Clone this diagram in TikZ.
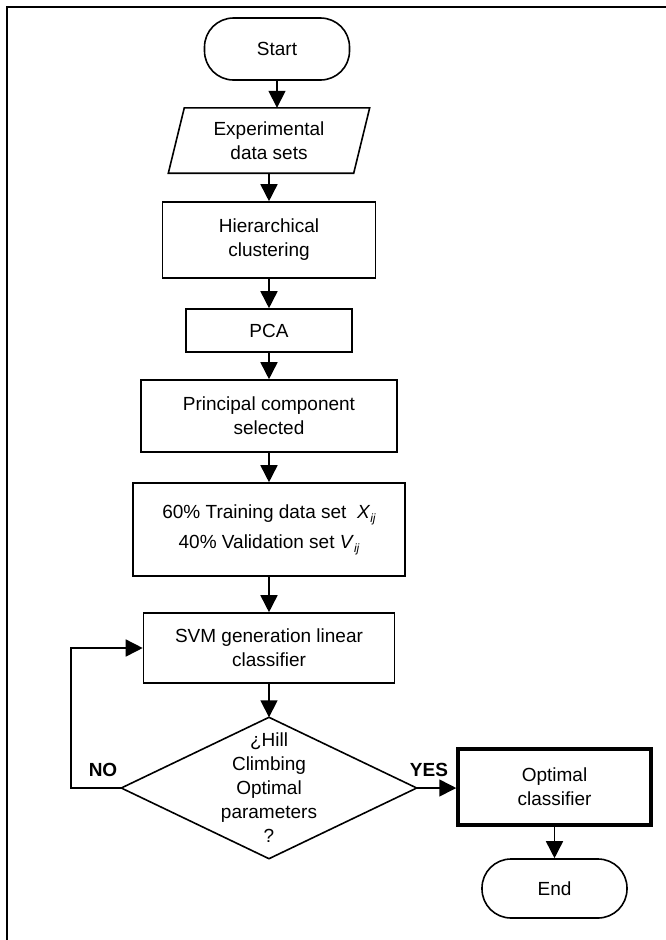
\documentclass[tikz,border=0pt]{standalone}
\usepackage{fontspec}
\setmainfont{Liberation Sans}
\usetikzlibrary{arrows.meta,calc}
\newcommand\ijsub{\raisebox{-4pt}{\fontsize{12}{12}\selectfont\itshape ij}}
\begin{document}
\begin{tikzpicture}[x=1pt,y=-1pt,
 every node/.style={font=\fontsize{19}{24}\selectfont, align=center, inner sep=0pt},
 box/.style={draw, line width=1.6pt},
 term/.style={draw, line width=1.6pt, rounded corners=29pt},
 arr/.style={line width=1.6pt, -{Triangle[length=17pt,width=17pt]}},
 line/.style={line width=1.6pt},
 lbl/.style={font=\fontsize{19}{24}\selectfont\bfseries}]
\useasboundingbox (0,0) rectangle (666,940);
\draw[line width=2.5pt] (7,940) -- (7,7) -- (666,7);

\node[term, minimum width=145pt, minimum height=62pt] (start) at (277,49) {Start};
\node[minimum width=201pt, minimum height=65pt] (data) at (269,140.5) {Experimental\\data sets};
\draw[line] ([xshift=16pt]data.north west) -- (data.north east) -- ([xshift=-16pt]data.south east) -- (data.south west) -- cycle;
\node[box, minimum width=213pt, minimum height=76pt] (hier) at (269,240) {Hierarchical\\clustering};
\node[box, minimum width=166pt, minimum height=43pt] (pca) at (269,330.5) {PCA};
\node[box, minimum width=256pt, minimum height=72pt] (pcs) at (269,416) {Principal component\\selected};
\node[box, minimum width=272pt, minimum height=93pt, font=\fontsize{19}{30}\selectfont] (split) at (269,529.5) {60\% Training data set \ \textit{X}\ijsub\\40\% Validation set \textit{V}\ijsub};
\node[box, minimum width=251pt, minimum height=70pt] (svm) at (269,648) {SVM generation linear\\classifier};
\node[minimum width=295pt, minimum height=141pt] (dec) at (269,788) {¿Hill\\Climbing\\Optimal\\parameters\\?};
\draw[line] (dec.north) -- (dec.east) -- (dec.south) -- (dec.west) -- cycle;
\node[draw, line width=3.5pt, minimum width=193pt, minimum height=76pt] (opt) at (554.5,787) {Optimal\\classifier};
\node[term, minimum width=145pt, minimum height=59pt] (end) at (554.5,888.5) {End};
\coordinate (loop) at (71,648);
\node[lbl] (no) at (103,770) {NO};
\node[lbl] (yes) at (429,770) {YES};

\draw[arr] (start.south) -- (start.south |- data.north);
\draw[arr] (data.south) -- (hier.north);
\draw[arr] (hier.south) -- (pca.north);
\draw[arr] (pca.south) -- (pcs.north);
\draw[arr] (pcs.south) -- (split.north);
\draw[arr] (split.south) -- (svm.north);
\draw[arr] (svm.south) -- (dec.north);
\draw[arr] (dec.east) -- (dec.east -| opt.west);
\draw[arr] (opt.south) -- (end.north);
\draw[arr] (dec.west) -| (loop) -- (svm.west);
\end{tikzpicture}
\end{document}
